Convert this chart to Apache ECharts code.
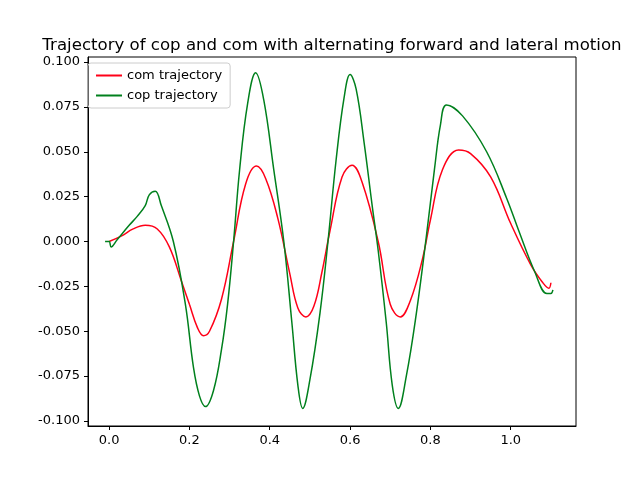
<!DOCTYPE html>
<html>
<head>
<meta charset="utf-8">
<script src="https://cdn.jsdelivr.net/npm/echarts@6/dist/echarts.min.js"></script>
<style>html,body{margin:0;padding:0;background:#fff}#main{width:640px;height:477px}</style>
</head>
<body>
<div id="main"></div>
<script>
// com trajectory [x, y]
var comData = [
    [0, 0], [0.03, 0.003], [0.06, 0.007], [0.09, 0.009], [0.12, 0.007], [0.15, -0.003],
    [0.18, -0.022], [0.2, -0.035], [0.22, -0.048], [0.235, -0.0525], [0.25, -0.05],
    [0.28, -0.032], [0.31, 0], [0.34, 0.032], [0.367, 0.042], [0.39, 0.035],
    [0.42, 0.013], [0.45, -0.018], [0.47, -0.037], [0.49, -0.042], [0.51, -0.036],
    [0.53, -0.017], [0.55, 0.006], [0.58, 0.036], [0.605, 0.0425], [0.63, 0.033],
    [0.67, 0], [0.7, -0.035], [0.725, -0.042], [0.75, -0.033], [0.78, -0.01],
    [0.8, 0.012], [0.83, 0.04], [0.87, 0.051], [0.9, 0.049], [0.95, 0.036],
    [1.0, 0.01], [1.05, -0.013], [1.08, -0.023], [1.095, -0.026], [1.1, -0.023]
];
// cop trajectory [x, y]
var copData = [
    [-0.01, 0], [0.0, 0], [0.005, -0.003], [0.02, 0.001], [0.05, 0.009], [0.07, 0.014],
    [0.09, 0.02], [0.1, 0.026], [0.115, 0.028], [0.13, 0.02], [0.16, 0], [0.19, -0.035],
    [0.21, -0.07], [0.225, -0.086], [0.24, -0.092], [0.26, -0.083], [0.28, -0.06],
    [0.295, -0.035], [0.31, 0], [0.325, 0.04], [0.345, 0.077], [0.365, 0.094],
    [0.385, 0.079], [0.41, 0.04], [0.435, 0], [0.455, -0.045], [0.47, -0.08],
    [0.482, -0.093], [0.5, -0.077], [0.525, -0.04], [0.545, 0], [0.565, 0.045],
    [0.585, 0.08], [0.6, 0.093], [0.615, 0.085], [0.635, 0.055], [0.655, 0.02],
    [0.67, -0.005], [0.69, -0.045], [0.705, -0.08], [0.72, -0.093], [0.74, -0.075],
    [0.765, -0.04], [0.79, 0.003], [0.81, 0.04], [0.825, 0.065], [0.84, 0.076],
    [0.88, 0.07], [0.94, 0.05], [0.99, 0.024], [1.02, 0.006], [1.06, -0.017],
    [1.09, -0.029], [1.1, -0.029], [1.105, -0.027]
];
var xTicks = [0, 0.2, 0.4, 0.6, 0.8, 1.0];
var yTicks = [-0.1, -0.075, -0.05, -0.025, 0, 0.025, 0.05, 0.075, 0.1];

var chart = echarts.init(document.getElementById('main'));
var font = {color: '#000', fontSize: 13, fontFamily: 'DejaVu Sans'};
chart.setOption({
    animation: false,
    title: {
        text: 'Trajectory of cop and com with alternating forward and lateral motion',
        left: 327, top: 32, textAlign: 'center',
        textStyle: {fontSize: 16.6, fontWeight: 'normal', color: '#000', fontFamily: 'DejaVu Sans'}
    },
    legend: {
        left: 88, top: 63, orient: 'vertical', itemGap: 7,
        itemWidth: 26, itemHeight: 2, padding: [6, 8, 6, 8],
        borderColor: '#ccc', borderWidth: 1, borderRadius: 3,
        textStyle: font,
        data: [{name: 'com trajectory', icon: 'rect'}, {name: 'cop trajectory', icon: 'rect'}]
    },
    grid: {left: 88, right: 64, top: 57, bottom: 51, show: true, borderColor: '#000', borderWidth: 1},
    xAxis: {type: 'value', min: -0.0525, max: 1.1625,
        axisLine: {onZero: false, show: true, lineStyle: {color: '#000'}},
        axisLabel: Object.assign({customValues: xTicks, margin: 8,
            formatter: function (v) { return v.toFixed(1); }}, font),
        axisTick: {customValues: xTicks, length: 4, lineStyle: {color: '#000'}},
        splitLine: {show: false}},
    yAxis: {type: 'value', min: -0.1028, max: 0.1028,
        axisLine: {onZero: false, show: true, lineStyle: {color: '#000'}},
        axisLabel: Object.assign({customValues: yTicks, margin: 8,
            formatter: function (v) { return v.toFixed(3); }}, font),
        axisTick: {customValues: yTicks, length: 4, lineStyle: {color: '#000'}},
        splitLine: {show: false}},
    series: [
        {name: 'com trajectory', type: 'line', data: comData, smooth: 0.4, showSymbol: false,
            color: '#ff0018', lineStyle: {width: 1.5, color: '#ff0018'}},
        {name: 'cop trajectory', type: 'line', data: copData, smooth: 0.4, showSymbol: false,
            color: '#00801d', lineStyle: {width: 1.5, color: '#00801d'}}
    ]
});
</script>
</body>
</html>
